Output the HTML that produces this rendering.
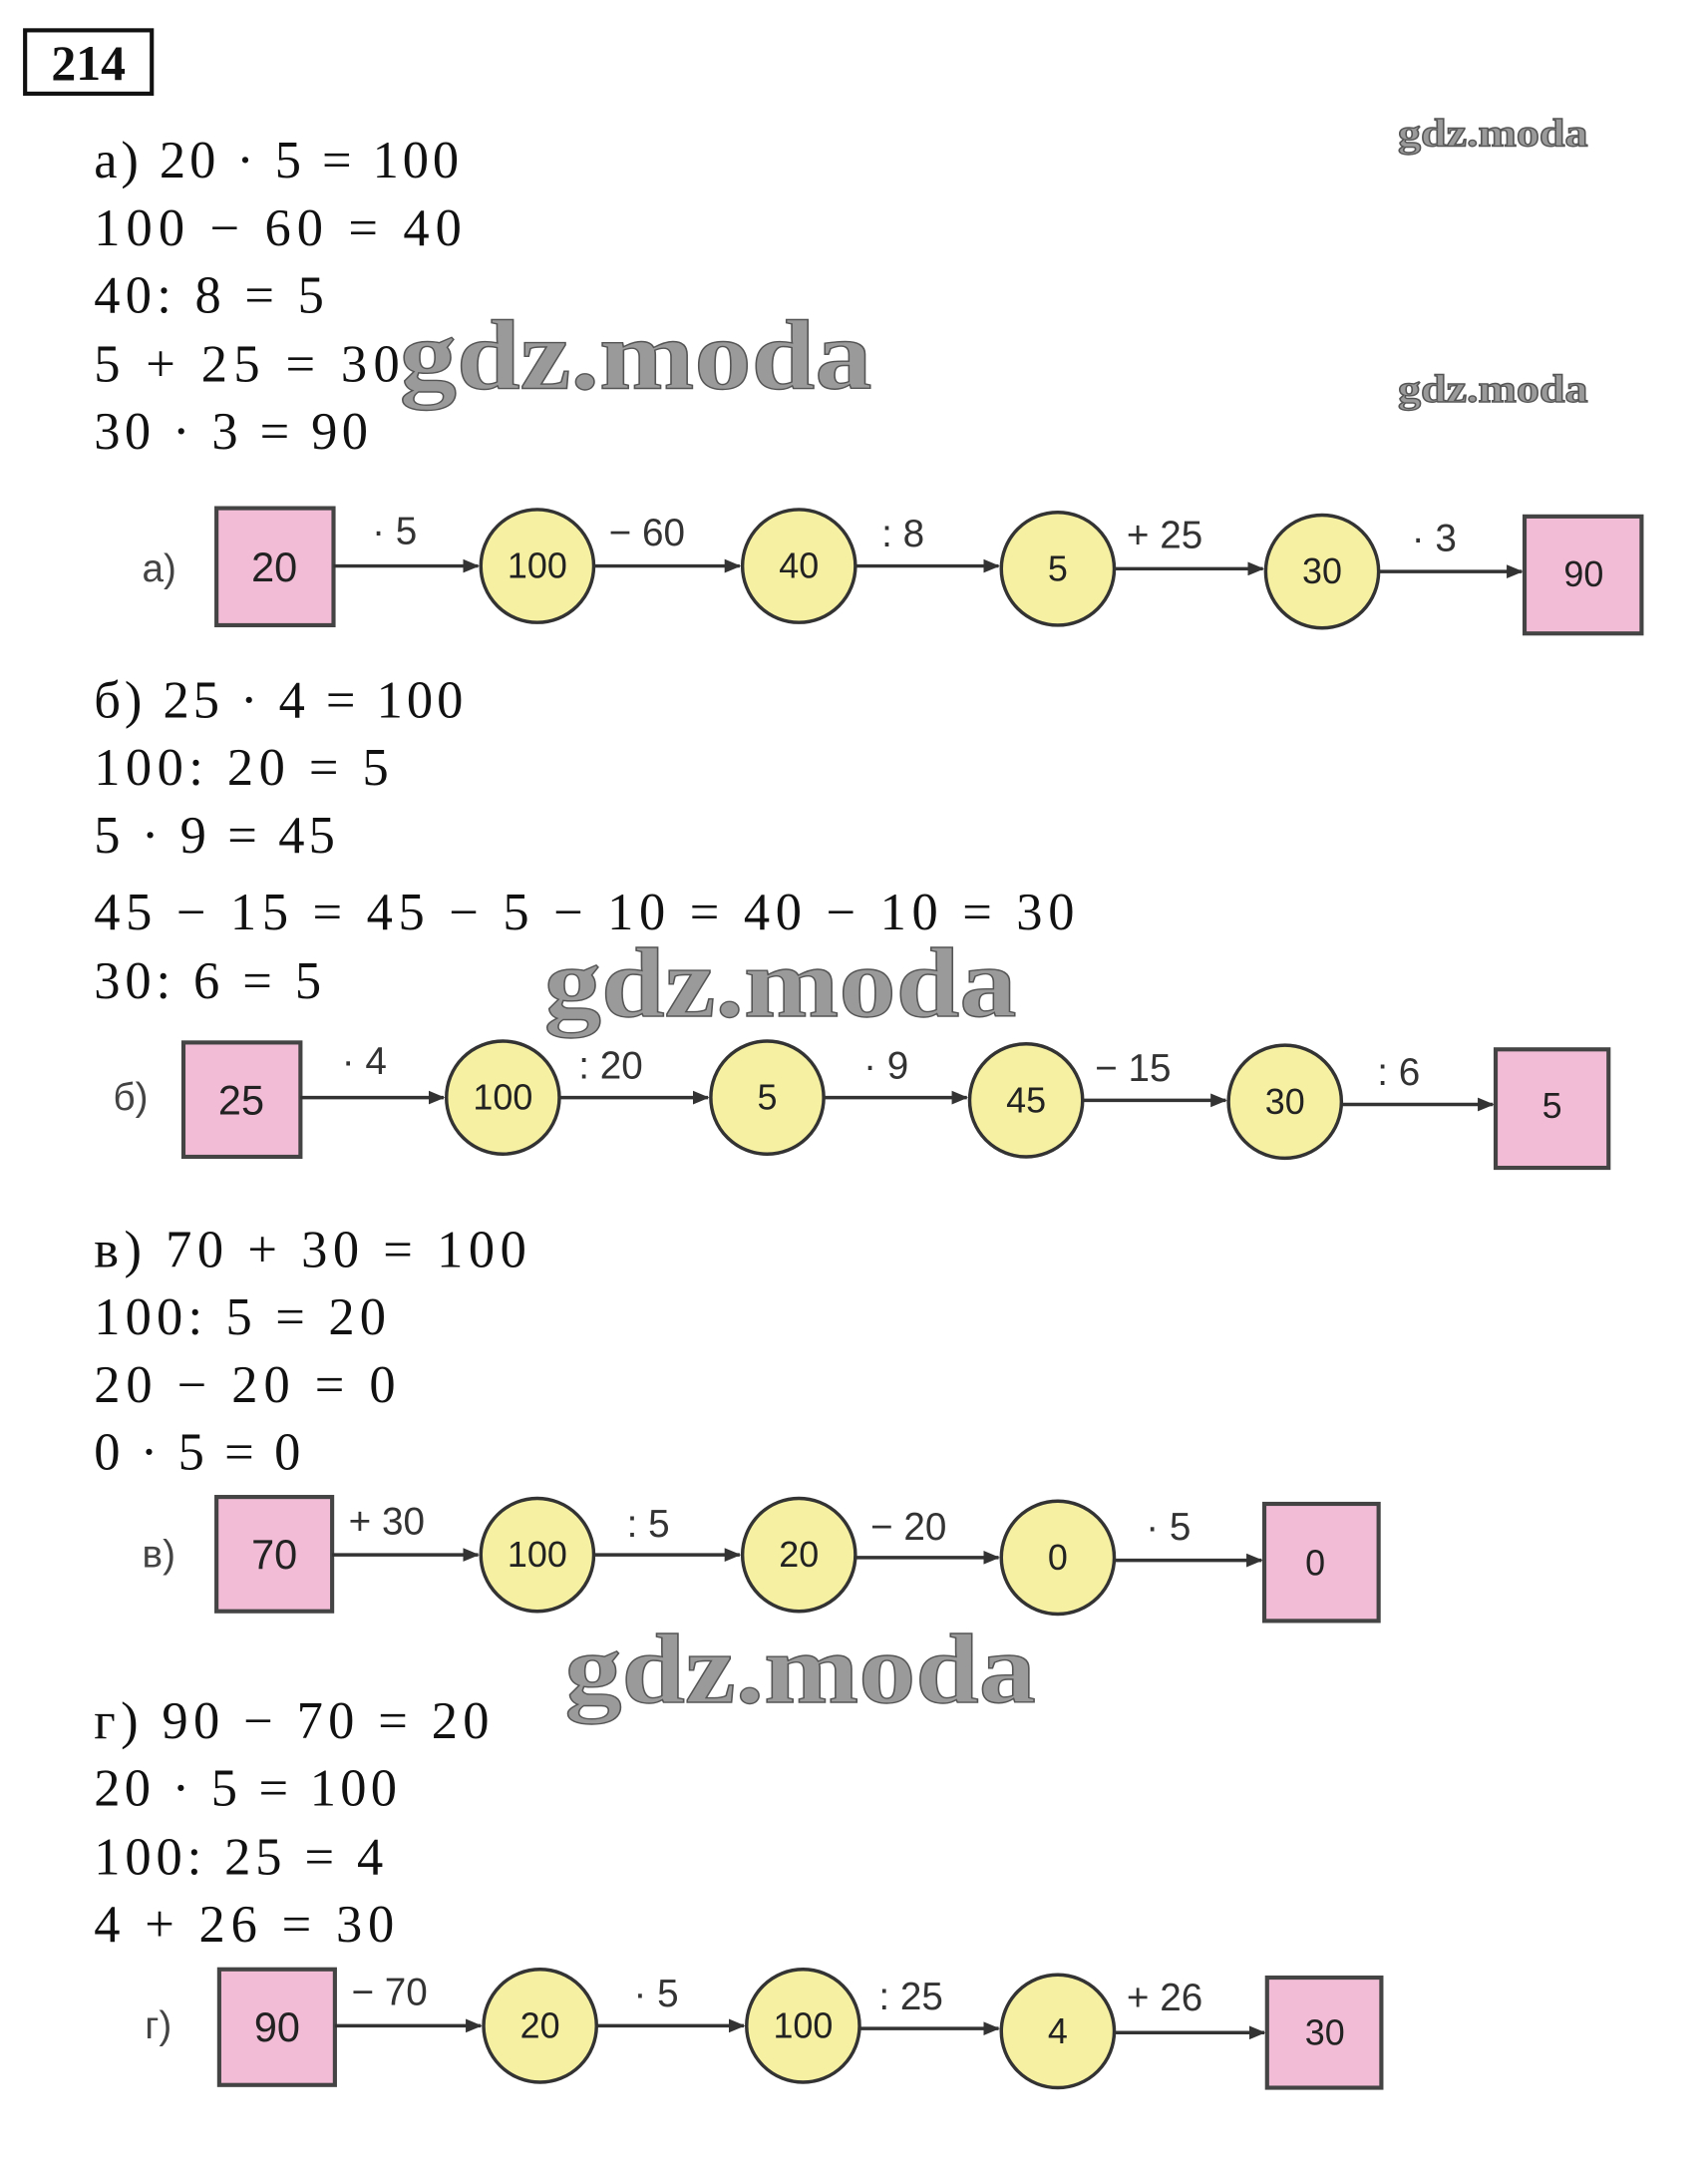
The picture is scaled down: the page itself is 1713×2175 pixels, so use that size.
<!DOCTYPE html>
<html><head><meta charset="utf-8"><style>
html,body{margin:0;padding:0;background:#fff;}
svg{display:block;}
.t{font-family:"Liberation Serif",serif;font-size:38px;fill:#111;}
.n{font-family:"Liberation Sans",sans-serif;font-size:26px;fill:#222;text-anchor:middle;dominant-baseline:central;}
.o{font-family:"Liberation Sans",sans-serif;font-size:28px;fill:#333;}
.l{font-family:"Liberation Sans",sans-serif;font-size:28px;fill:#444;}
.w{font-family:"Liberation Serif",serif;font-weight:bold;fill:#9a9a9a;stroke:#555;stroke-width:1;}
.sq{fill:#f2bcd6;stroke:#444;stroke-width:3;}
.c{fill:#f6f1a2;stroke:#333;stroke-width:2.5;}
.a{stroke:#333;stroke-width:2.5;marker-end:url(#ar);}
</style></head><body>
<svg width="1713" height="2175" viewBox="0 0 1240 1575" xmlns="http://www.w3.org/2000/svg">
<defs><marker id="ar" markerWidth="12" markerHeight="10" refX="11" refY="5" orient="auto" markerUnits="userSpaceOnUse"><path d="M0,0 L12,5 L0,10 z" fill="#333"/></marker></defs>
<rect x="18" y="22" width="92" height="46" fill="none" stroke="#111" stroke-width="3"/>
<text x="64" y="58" class="t" style="font-weight:bold;font-size:36px" text-anchor="middle">214</text>

<text class="w" x="1015" y="106" style="font-size:28px" textLength="138" lengthAdjust="spacingAndGlyphs">gdz.moda</text>
<text class="w" x="1015" y="292" style="font-size:28px" textLength="138" lengthAdjust="spacingAndGlyphs">gdz.moda</text>

<text class="t" x="68" y="129" textLength="265" lengthAdjust="spacing">а) 20 · 5 = 100</text>
<text class="t" x="68" y="178" textLength="267" lengthAdjust="spacing">100 − 60 = 40</text>
<text class="t" x="68" y="227" textLength="167" lengthAdjust="spacing">40: 8 = 5</text>
<text class="t" x="68" y="277" textLength="222" lengthAdjust="spacing">5 + 25 = 30</text>
<text class="t" x="68" y="326" textLength="199" lengthAdjust="spacing">30 · 3 = 90</text>
<text class="w" x="290" y="282" style="font-size:72px" textLength="343" lengthAdjust="spacingAndGlyphs">gdz.moda</text>

<text class="l" x="103" y="422">а)</text>
<rect class="sq" x="157" y="369" width="85" height="85"/><text class="n" x="199" y="412" style="font-size:30px">20</text>
<line class="a" x1="242" y1="411" x2="347" y2="411"/><text class="o" x="270" y="395">· 5</text>
<circle class="c" cx="390" cy="411" r="41"/><text class="n" x="390" y="411">100</text>
<line class="a" x1="431" y1="411" x2="537" y2="411"/><text class="o" x="442" y="396">− 60</text>
<circle class="c" cx="580" cy="411" r="41"/><text class="n" x="580" y="411">40</text>
<line class="a" x1="621" y1="411" x2="725" y2="411"/><text class="o" x="640" y="397">: 8</text>
<circle class="c" cx="768" cy="413" r="41"/><text class="n" x="768" y="413">5</text>
<line class="a" x1="809" y1="413" x2="917" y2="413"/><text class="o" x="818" y="398">+ 25</text>
<circle class="c" cx="960" cy="415" r="41"/><text class="n" x="960" y="415">30</text>
<line class="a" x1="1001" y1="415" x2="1105" y2="415"/><text class="o" x="1025" y="400">· 3</text>
<rect class="sq" x="1107" y="375" width="85" height="85"/><text class="n" x="1150" y="417">90</text>

<text class="t" x="68" y="521" textLength="268" lengthAdjust="spacing">б) 25 · 4 = 100</text>
<text class="t" x="68" y="570" textLength="214" lengthAdjust="spacing">100: 20 = 5</text>
<text class="t" x="68" y="619" textLength="175" lengthAdjust="spacing">5 · 9 = 45</text>
<text class="t" x="68" y="675" textLength="712" lengthAdjust="spacing">45 − 15 = 45 − 5 − 10 = 40 − 10 = 30</text>
<text class="t" x="68" y="725" textLength="165" lengthAdjust="spacing">30: 6 = 5</text>
<text class="w" x="395" y="738" style="font-size:72px" textLength="343" lengthAdjust="spacingAndGlyphs">gdz.moda</text>

<text class="l" x="82" y="806">б)</text>
<rect class="sq" x="133" y="757" width="85" height="83"/><text class="n" x="175" y="799" style="font-size:30px">25</text>
<line class="a" x1="218" y1="797" x2="322" y2="797"/><text class="o" x="248" y="780">· 4</text>
<circle class="c" cx="365" cy="797" r="41"/><text class="n" x="365" y="797">100</text>
<line class="a" x1="406" y1="797" x2="514" y2="797"/><text class="o" x="420" y="783">: 20</text>
<circle class="c" cx="557" cy="797" r="41"/><text class="n" x="557" y="797">5</text>
<line class="a" x1="598" y1="797" x2="702" y2="797"/><text class="o" x="627" y="783">· 9</text>
<circle class="c" cx="745" cy="799" r="41"/><text class="n" x="745" y="799">45</text>
<line class="a" x1="786" y1="799" x2="890" y2="799"/><text class="o" x="795" y="785">− 15</text>
<circle class="c" cx="933" cy="800" r="41"/><text class="n" x="933" y="800">30</text>
<line class="a" x1="974" y1="802" x2="1084" y2="802"/><text class="o" x="1000" y="788">: 6</text>
<rect class="sq" x="1086" y="762" width="82" height="86"/><text class="n" x="1127" y="803">5</text>

<text class="t" x="68" y="920" textLength="314" lengthAdjust="spacing">в) 70 + 30 = 100</text>
<text class="t" x="68" y="969" textLength="212" lengthAdjust="spacing">100: 5 = 20</text>
<text class="t" x="68" y="1018" textLength="219" lengthAdjust="spacing">20 − 20 = 0</text>
<text class="t" x="68" y="1067" textLength="150" lengthAdjust="spacing">0 · 5 = 0</text>

<text class="l" x="103" y="1138">в)</text>
<rect class="sq" x="157" y="1087" width="84" height="83"/><text class="n" x="199" y="1129" style="font-size:30px">70</text>
<line class="a" x1="241" y1="1129" x2="347" y2="1129"/><text class="o" x="253" y="1114">+ 30</text>
<circle class="c" cx="390" cy="1129" r="41"/><text class="n" x="390" y="1129">100</text>
<line class="a" x1="431" y1="1129" x2="537" y2="1129"/><text class="o" x="455" y="1116">: 5</text>
<circle class="c" cx="580" cy="1129" r="41"/><text class="n" x="580" y="1129">20</text>
<line class="a" x1="621" y1="1131" x2="725" y2="1131"/><text class="o" x="632" y="1118">− 20</text>
<circle class="c" cx="768" cy="1131" r="41"/><text class="n" x="768" y="1131">0</text>
<line class="a" x1="809" y1="1133" x2="916" y2="1133"/><text class="o" x="832" y="1118">· 5</text>
<rect class="sq" x="918" y="1092" width="83" height="85"/><text class="n" x="955" y="1135">0</text>
<text class="w" x="410" y="1236" style="font-size:72px" textLength="342" lengthAdjust="spacingAndGlyphs">gdz.moda</text>

<text class="t" x="68" y="1262" textLength="287" lengthAdjust="spacing">г) 90 − 70 = 20</text>
<text class="t" x="68" y="1311" textLength="220" lengthAdjust="spacing">20 · 5 = 100</text>
<text class="t" x="68" y="1361" textLength="210" lengthAdjust="spacing">100: 25 = 4</text>
<text class="t" x="68" y="1410" textLength="218" lengthAdjust="spacing">4 + 26 = 30</text>

<text class="l" x="105" y="1480">г)</text>
<rect class="sq" x="159" y="1430" width="84" height="84"/><text class="n" x="201" y="1472" style="font-size:30px">90</text>
<line class="a" x1="243" y1="1471" x2="349" y2="1471"/><text class="o" x="255" y="1456">− 70</text>
<circle class="c" cx="392" cy="1471" r="41"/><text class="n" x="392" y="1471">20</text>
<line class="a" x1="433" y1="1471" x2="540" y2="1471"/><text class="o" x="460" y="1457">· 5</text>
<circle class="c" cx="583" cy="1471" r="41"/><text class="n" x="583" y="1471">100</text>
<line class="a" x1="624" y1="1473" x2="725" y2="1473"/><text class="o" x="638" y="1459">: 25</text>
<circle class="c" cx="768" cy="1475" r="41"/><text class="n" x="768" y="1475">4</text>
<line class="a" x1="809" y1="1476" x2="918" y2="1476"/><text class="o" x="818" y="1460">+ 26</text>
<rect class="sq" x="920" y="1436" width="83" height="80"/><text class="n" x="962" y="1476">30</text>
</svg>
</body></html>
